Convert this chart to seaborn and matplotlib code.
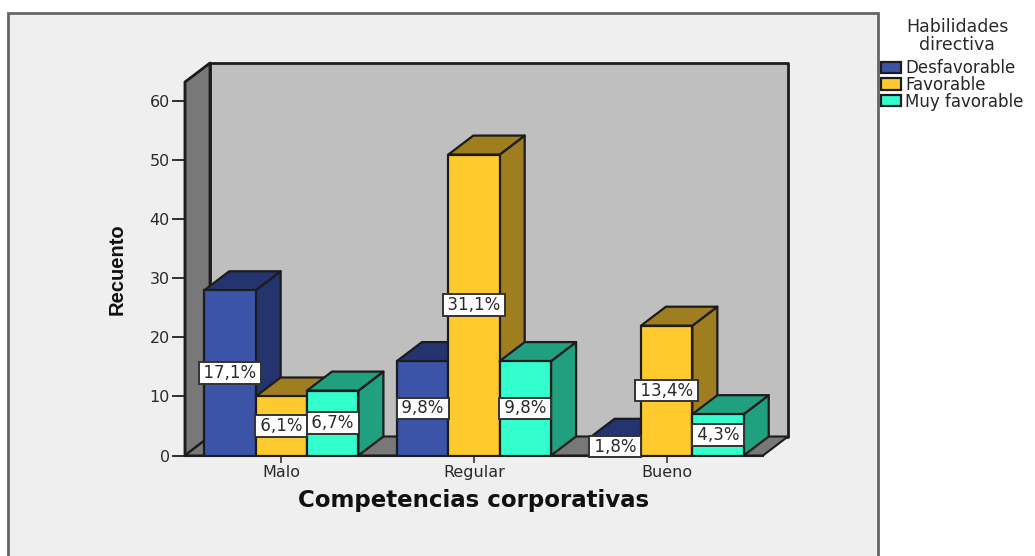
import matplotlib
matplotlib.use("Agg")
import matplotlib.pyplot as plt
from matplotlib.patches import Polygon, Rectangle
import pandas as pd
import seaborn as sns

# Survey counts per corporate-competence level and directive-skill rating
categories = ["Malo", "Regular", "Bueno"]
ratings = ["Desfavorable", "Favorable", "Muy favorable"]
desfavorable = [28, 16, 3]
favorable = [10, 51, 22]
muy_favorable = [11, 16, 7]
respondents = 164

front_colors = ["#3B54A8", "#FFCA2E", "#33FFCC"]
shade_colors = ["#24346E", "#9E7E1E", "#21A07F"]
EDGE = "#1c1c1c"
TEXT = "#2a2a2a"

W, H = 1035, 556
DEPTH_X_PX, DEPTH_Y_PX = 25, 19
Y_TOP = 63.3

sns.set_style("white")
plt.rcParams["font.family"] = ["DejaVu Sans"]

fig = plt.figure(figsize=(W / 100, H / 100), dpi=100, facecolor="white")
ax = fig.add_axes([185 / W, 1 - 455.5 / H, 578 / W, 373.5 / H])
ax.set_facecolor("none")

# Chart panel, open at the bottom of the figure
fig.add_artist(Rectangle((8 / W, -0.05), 870 / W, 1.05 - 13 / H,
                         transform=fig.transFigure, facecolor="#EFEFEF",
                         edgecolor="#666666", linewidth=2, zorder=-1))

table = pd.DataFrame({
    "categoria": categories * 3,
    "habilidad": [r for r in ratings for _ in categories],
    "recuento": desfavorable + favorable + muy_favorable,
})

sns.barplot(data=table, x="categoria", y="recuento", hue="habilidad",
            order=categories, hue_order=ratings, palette=front_colors,
            saturation=1, width=0.8, gap=0, edgecolor=EDGE, linewidth=1.6, ax=ax)

ax.set_xlim(-0.5, 2.5)
ax.set_ylim(0, Y_TOP)
ax.set_yticks(range(0, 61, 10))

dx = DEPTH_X_PX / 578 * 3
dy = DEPTH_Y_PX / 373.5 * Y_TOP


def face(points, color, z, lw=1.6):
    ax.add_patch(Polygon(points, closed=True, facecolor=color, edgecolor=EDGE,
                         linewidth=lw, clip_on=False, zorder=z, joinstyle="round"))


# Box walls and floor behind the bars
x0, x1 = ax.get_xlim()
face([(x0 + dx, dy), (x1 + dx, dy), (x1 + dx, Y_TOP + dy), (x0 + dx, Y_TOP + dy)], "#BFBFBF", 1, 2)
face([(x0, 0), (x0 + dx, dy), (x0 + dx, Y_TOP + dy), (x0, Y_TOP)], "#787878", 1.1, 2)
face([(x0, 0), (x1, 0), (x1 + dx, dy), (x0 + dx, dy)], "#787878", 1.2, 1.5)

# Extruded sides and tops, stacked so nearer series overlap earlier ones
for h, (container, shade) in enumerate(zip(ax.containers, shade_colors)):
    for bar in container:
        left, right = bar.get_x(), bar.get_x() + bar.get_width()
        top = bar.get_height()
        base_z = 3 + h * 0.3
        face([(right, 0), (right + dx, dy), (right + dx, top + dy), (right, top)], shade, base_z)
        face([(left, top), (right, top), (right + dx, top + dy), (left + dx, top + dy)], shade, base_z + 0.05)
        bar.set_zorder(base_z + 0.1)

        # Share of all respondents, decimal comma; thin spaces widen the box
        share = f"{bar.get_height() / respondents * 100:.1f}".replace(".", ",") + "%"
        ax.text(left + bar.get_width() / 2, top / 2, f"\u2009{share}\u2009", ha="center", va="center",
                fontsize=12, color=TEXT, zorder=20 - h,
                bbox=dict(boxstyle="square,pad=0.1", facecolor="white",
                          edgecolor="#333333", linewidth=1.4))

ax.tick_params(axis="y", length=9.4, width=1.3, color="#222222", pad=1.5,
               labelsize=11.5, labelcolor=TEXT, left=True)
ax.tick_params(axis="x", length=5, width=1.3, color="#444444", pad=2,
               labelsize=11.5, labelcolor=TEXT, bottom=True)
for side in ["top", "right"]:
    ax.spines[side].set_visible(False)
for side in ["left", "bottom"]:
    ax.spines[side].set_color(EDGE)
    ax.spines[side].set_linewidth(1.5)

ax.set_xlabel("")
ax.set_ylabel("")
fig.text(474 / W, 1 - 500 / H, "Competencias corporativas", ha="center", va="center",
         fontsize=16.5, fontweight="bold", color="#111111")
fig.text(117 / W, 1 - 269 / H, "Recuento", ha="center", va="center", rotation=90,
         fontsize=14.5, fontweight="bold", color="#111111",
         family=["Liberation Sans Narrow", "Liberation Sans"])

sns.move_legend(ax, loc="upper left", bbox_to_anchor=(881 / W, 1 - 59 / H),
                bbox_transform=fig.transFigure, frameon=False, title=None,
                fontsize=12, handlelength=1.2, handleheight=0.66,
                handletextpad=0.25, labelspacing=-0.07, borderpad=0, borderaxespad=0)
fig.text(957 / W, 1 - 36 / H, "Habilidades\ndirectiva", ha="center", va="center",
         multialignment="center", fontsize=12.5, color=TEXT, linespacing=0.95)

fig.savefig("out.png", dpi=100)
